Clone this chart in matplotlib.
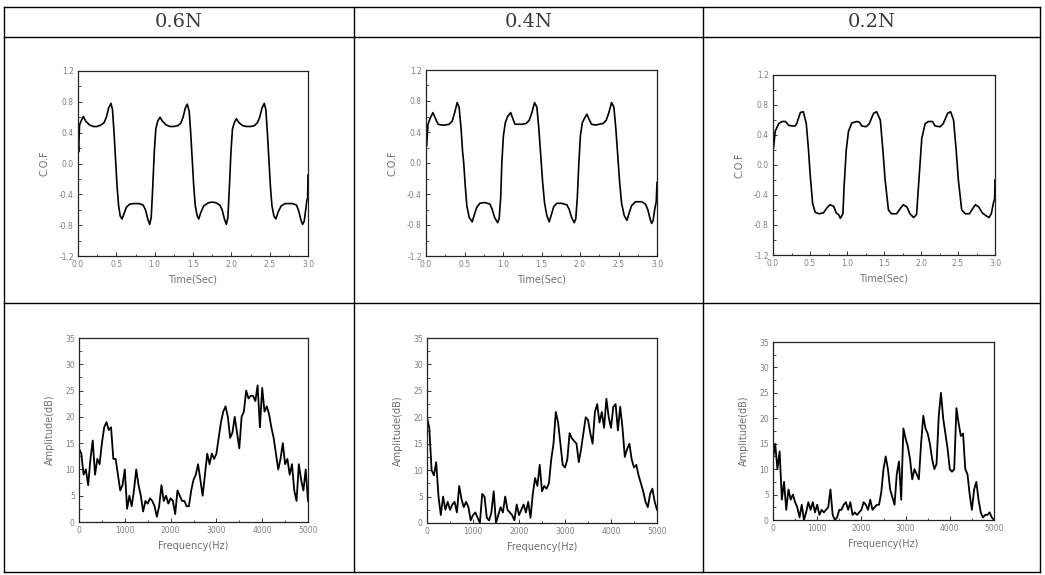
import matplotlib
matplotlib.use("Agg")
import matplotlib.pyplot as plt
from matplotlib.lines import Line2D
from matplotlib.ticker import MultipleLocator
import numpy as np

W, H = 1045, 575

loads = ["0.6N", "0.4N", "0.2N"]

# C.O.F vs time, 0.6N
t_06 = [0.000, 0.008, 0.020, 0.040, 0.070, 0.100, 0.150, 0.200, 0.250, 0.300, 0.340, 0.370, 0.400, 0.430, 0.450,
        0.470, 0.490, 0.510, 0.530, 0.550, 0.575, 0.600, 0.630, 0.670, 0.720, 0.800, 0.850, 0.880, 0.910, 0.935,
        0.955, 0.975, 0.995, 1.015, 1.040, 1.070, 1.100, 1.150, 1.200, 1.250, 1.300, 1.340, 1.370, 1.400, 1.425,
        1.450, 1.470, 1.490, 1.510, 1.530, 1.555, 1.575, 1.600, 1.640, 1.700, 1.750, 1.800, 1.850, 1.880, 1.910,
        1.935, 1.955, 1.975, 1.995, 2.015, 2.040, 2.065, 2.100, 2.150, 2.200, 2.250, 2.300, 2.340, 2.370, 2.400,
        2.430, 2.450, 2.470, 2.490, 2.510, 2.530, 2.555, 2.580, 2.610, 2.650, 2.700, 2.800, 2.850, 2.880, 2.910,
        2.930, 2.950, 2.970, 2.985, 2.995, 3.000]
cof_06 = [0.30, 0.15, 0.50, 0.55, 0.61, 0.55, 0.50, 0.48, 0.48, 0.50, 0.53, 0.60, 0.72, 0.78, 0.70,
          0.40, 0.05, -0.30, -0.55, -0.68, -0.72, -0.65, -0.57, -0.53, -0.52, -0.52, -0.54, -0.60, -0.72, -0.79,
          -0.70, -0.30, 0.15, 0.45, 0.55, 0.60, 0.55, 0.50, 0.48, 0.48, 0.49, 0.52, 0.60, 0.72, 0.77,
          0.68, 0.40, 0.05, -0.30, -0.55, -0.68, -0.72, -0.64, -0.55, -0.51, -0.50, -0.51, -0.54, -0.60, -0.72,
          -0.79, -0.70, -0.30, 0.15, 0.45, 0.53, 0.58, 0.53, 0.49, 0.48, 0.48, 0.49, 0.53, 0.60, 0.72,
          0.78, 0.70, 0.40, 0.05, -0.30, -0.55, -0.68, -0.72, -0.63, -0.55, -0.52, -0.52, -0.54, -0.62, -0.74,
          -0.79, -0.75, -0.60, -0.48, -0.45, -0.15]

# C.O.F vs time, 0.4N
t_04 = [0.000, 0.008, 0.026, 0.055, 0.090, 0.120, 0.157, 0.200, 0.250, 0.300, 0.340, 0.370, 0.405, 0.430, 0.455,
        0.475, 0.490, 0.510, 0.530, 0.560, 0.600, 0.630, 0.660, 0.700, 0.760, 0.830, 0.860, 0.890, 0.930, 0.950,
        0.970, 0.985, 1.005, 1.030, 1.060, 1.100, 1.125, 1.155, 1.200, 1.250, 1.300, 1.340, 1.375, 1.410, 1.440,
        1.465, 1.490, 1.515, 1.540, 1.570, 1.600, 1.630, 1.660, 1.700, 1.760, 1.830, 1.860, 1.890, 1.925, 1.945,
        1.965, 1.985, 2.005, 2.030, 2.060, 2.090, 2.120, 2.150, 2.200, 2.250, 2.300, 2.340, 2.375, 2.410, 2.440,
        2.465, 2.490, 2.515, 2.540, 2.575, 2.610, 2.640, 2.670, 2.720, 2.800, 2.850, 2.880, 2.910, 2.930, 2.950,
        2.970, 2.990, 3.000]
cof_04 = [0.24, 0.22, 0.50, 0.58, 0.65, 0.58, 0.50, 0.49, 0.49, 0.50, 0.54, 0.64, 0.78, 0.72, 0.45,
          0.15, 0.00, -0.30, -0.55, -0.70, -0.76, -0.66, -0.57, -0.52, -0.51, -0.53, -0.60, -0.70, -0.77, -0.72,
          -0.45, 0.00, 0.35, 0.52, 0.60, 0.65, 0.58, 0.50, 0.50, 0.50, 0.51, 0.55, 0.65, 0.78, 0.72,
          0.45, 0.10, -0.25, -0.52, -0.68, -0.76, -0.66, -0.56, -0.52, -0.52, -0.54, -0.60, -0.70, -0.77, -0.72,
          -0.45, 0.00, 0.35, 0.52, 0.58, 0.63, 0.56, 0.50, 0.49, 0.50, 0.51, 0.55, 0.65, 0.78, 0.72,
          0.45, 0.10, -0.25, -0.52, -0.68, -0.74, -0.64, -0.55, -0.50, -0.50, -0.53, -0.60, -0.72, -0.78, -0.74,
          -0.60, -0.50, -0.25]

# C.O.F vs time, 0.2N
t_02 = [0.000, 0.010, 0.030, 0.076, 0.120, 0.170, 0.210, 0.256, 0.300, 0.320, 0.370, 0.410, 0.450, 0.480, 0.500,
        0.535, 0.570, 0.620, 0.680, 0.730, 0.770, 0.820, 0.855, 0.886, 0.910, 0.945, 0.960, 0.990, 1.020, 1.065,
        1.130, 1.170, 1.200, 1.260, 1.300, 1.360, 1.400, 1.450, 1.485, 1.515, 1.560, 1.600, 1.670, 1.720, 1.760,
        1.810, 1.850, 1.900, 1.940, 1.965, 2.010, 2.055, 2.100, 2.155, 2.190, 2.260, 2.300, 2.360, 2.400, 2.440,
        2.475, 2.505, 2.550, 2.600, 2.655, 2.700, 2.735, 2.780, 2.830, 2.885, 2.920, 2.950, 2.980, 2.995, 3.000]
cof_02 = [0.20, 0.25, 0.45, 0.55, 0.58, 0.58, 0.53, 0.52, 0.52, 0.55, 0.70, 0.71, 0.55, 0.20, -0.10,
          -0.51, -0.63, -0.65, -0.64, -0.57, -0.53, -0.55, -0.64, -0.66, -0.71, -0.65, -0.30, 0.20, 0.45, 0.56,
          0.58, 0.57, 0.52, 0.51, 0.55, 0.69, 0.71, 0.60, 0.20, -0.20, -0.60, -0.65, -0.65, -0.58, -0.53,
          -0.56, -0.65, -0.70, -0.66, -0.30, 0.35, 0.55, 0.58, 0.58, 0.52, 0.51, 0.55, 0.69, 0.71, 0.60,
          0.20, -0.20, -0.60, -0.65, -0.65, -0.58, -0.53, -0.56, -0.64, -0.68, -0.70, -0.65, -0.50, -0.45, -0.20]

# Amplitude spectra, 0 .. 5000 Hz in 50 Hz steps
amp_06 = [14, 13, 9, 10, 7, 12, 15.5, 9, 12, 11, 15, 18, 19, 17.5, 18, 12, 12, 9, 6, 7,
          10, 2.5, 5, 3, 6, 10, 7, 5, 2, 4, 3.5, 4.5, 4, 3, 1, 3, 7, 4, 5, 3.5,
          4.5, 4, 1.5, 6, 5, 4, 4, 3, 3, 6, 8, 9, 11, 8, 5, 9, 13, 11, 13, 12,
          13, 16, 19, 21, 22, 20, 16, 17, 20, 17, 14, 20, 21, 25, 23.5, 24, 24, 23, 26, 18,
          25.5, 21, 22, 20.5, 18, 16, 13, 10, 12, 15, 11, 12, 9, 11, 6, 4, 11, 8, 6, 10,
          4]
amp_04 = [20, 18, 10, 9, 11.5, 5, 1.5, 5, 2.5, 4, 2.5, 3.5, 4, 2, 7, 4.5, 3, 4, 3, 0.5,
          1.5, 2, 1, 0, 5.5, 5, 1, 0.5, 2, 6, 0, 1.5, 3, 2, 5, 2.5, 2, 1.5, 0.5, 3.5,
          1.5, 2.5, 3.5, 2, 4, 1, 5.5, 8.5, 7, 11, 6, 7, 6.5, 7.5, 12, 15, 21, 19, 15, 11,
          10.5, 12, 17, 16, 15.5, 15, 11.5, 14, 17, 20, 19.5, 17, 15, 21, 22.5, 19, 21, 18, 23.5, 20,
          18, 22, 22.5, 17.5, 22, 18, 12.5, 14, 15, 12, 10.5, 11, 9, 7.5, 6, 4, 3, 5.5, 6.5, 4,
          2.5]
amp_02 = [12, 15, 10, 13.5, 4, 7.5, 2, 6, 4, 5, 3.5, 2.5, 0.5, 3, 0, 1.5, 3.5, 2, 3.5, 1.5,
          3, 1, 2, 1.5, 2, 2.5, 6, 1, 0, 0.5, 2, 2, 3, 3.5, 2, 3.5, 1, 1.5, 1, 1.5,
          2, 3.5, 3, 2, 4, 2, 2.5, 3, 3, 5.5, 10, 12.5, 10, 6, 4.5, 3, 9, 11.5, 4, 18,
          16, 14.5, 12, 8, 10, 9, 8, 15, 20.5, 18, 17, 15, 12, 10, 11, 20.5, 25, 20, 17, 14,
          10, 9.5, 10, 22, 19, 16.5, 17, 10, 9, 5, 2, 6, 7.5, 4, 1.5, 0.5, 1, 1, 1.5, 0.5,
          0]

times = [t_06, t_04, t_02]
cofs = [cof_06, cof_04, cof_02]
amps = [amp_06, amp_04, amp_02]

# axes boxes in pixels: left, top, right, bottom
top_boxes = [(78, 71, 308, 256), (426, 70, 657, 256), (773, 75, 995, 255)]
bot_boxes = [(79, 338, 308, 522), (427, 338, 657, 523), (773, 342, 994, 520)]

grey = "#707070"


def px_axes(fig, box):
    l, t, r, b = box
    return fig.add_axes([l / W, 1 - b / H, (r - l) / W, (b - t) / H])


def style(ax):
    ax.tick_params(which="both", direction="in", labelsize=5.5, labelcolor="#808080", color="#333333",
                   top=False, right=False, pad=3)
    ax.tick_params(which="major", length=3, width=0.7)
    ax.tick_params(which="minor", length=1.8, width=0.6)
    for s in ax.spines.values():
        s.set_linewidth(0.9)
        s.set_color("#222222")


fig = plt.figure(figsize=(W / 100, H / 100), dpi=100)

for i in range(3):
    ax = px_axes(fig, top_boxes[i])
    ax.plot(times[i], cofs[i], color="black", lw=1.2)
    ax.set_xlim(0, 3.0)
    ax.set_ylim(-1.2, 1.2)
    ax.xaxis.set_major_locator(MultipleLocator(0.5))
    ax.xaxis.set_minor_locator(MultipleLocator(0.25))
    ax.yaxis.set_major_locator(MultipleLocator(0.4))
    ax.yaxis.set_minor_locator(MultipleLocator(0.2))
    ax.set_xticklabels([f"{v:.1f}" for v in ax.get_xticks()])
    ax.set_yticklabels([f"{v:.1f}" for v in ax.get_yticks()])
    style(ax)
    ax.set_xlabel("Time(Sec)", fontsize=7, color=grey, labelpad=4)
    ax.set_ylabel("C.O.F", fontsize=7, color=grey, labelpad=7)

    ax = px_axes(fig, bot_boxes[i])
    freq = np.linspace(0, 5000, len(amps[i]))
    ax.plot(freq, amps[i], color="black", lw=1.3)
    ax.set_xlim(0, 5000)
    ax.set_ylim(0, 35)
    ax.xaxis.set_major_locator(MultipleLocator(1000))
    ax.xaxis.set_minor_locator(MultipleLocator(500))
    ax.yaxis.set_major_locator(MultipleLocator(5))
    ax.yaxis.set_minor_locator(MultipleLocator(2.5))
    style(ax)
    ax.set_xlabel("Frequency(Hz)", fontsize=7, color=grey, labelpad=4)
    ax.set_ylabel("Amplitude(dB)", fontsize=7, color=grey, labelpad=7)

# table grid
xs = [4, 354, 703, 1040]
ys = [7, 37, 303, 572]
for y in ys:
    fig.add_artist(Line2D([xs[0] / W, xs[-1] / W], [1 - y / H, 1 - y / H], color="black", lw=1.0))
for x in xs:
    fig.add_artist(Line2D([x / W, x / W], [1 - ys[0] / H, 1 - ys[-1] / H], color="black", lw=1.0))

for i, name in enumerate(loads):
    cx = (xs[i] + xs[i + 1]) / 2
    fig.text(cx / W, 1 - 22 / H, name, ha="center", va="center", fontsize=14,
             family="DejaVu Serif", color="#3a3a3a", fontweight="light")

fig.savefig("out.png", dpi=100)
